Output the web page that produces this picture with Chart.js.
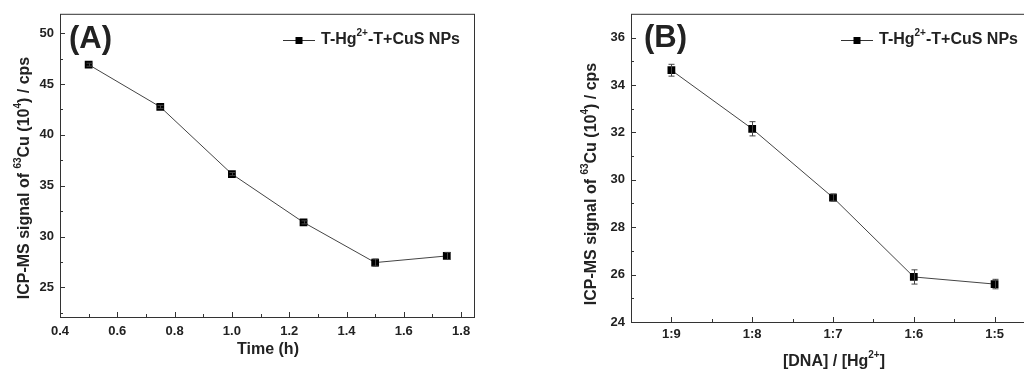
<!DOCTYPE html>
<html>
<head>
<meta charset="utf-8">
<script src="https://cdn.jsdelivr.net/npm/chart.js@4"></script>
<style>
    html, body { margin: 0; padding: 0; background: #fff; overflow: hidden; width: 1024px; height: 372px; }
    .panel { position: absolute; top: 0; height: 372px; }
    #panelA { left: 0; width: 490px; }
    #panelB { left: 560px; width: 490px; }
</style>
</head>
<body>
<div class="panel" id="panelA"><canvas id="chartA"></canvas></div>
<div class="panel" id="panelB"><canvas id="chartB"></canvas></div>
<script>
// Panel A: signal vs. incubation time
const timeHours = [0.5, 0.75, 1.0, 1.25, 1.5, 1.75];
const signalA = [46.9, 42.75, 36.15, 31.4, 27.45, 28.1];
const errorA = [0.15, 0.15, 0.15, 0.15, 0.35, 0.35];

// Panel B: signal vs. DNA / Hg2+ ratio
const ratioLabels = ['1:9', '1:8', '1:7', '1:6', '1:5'];
const signalB = [34.62, 32.15, 29.25, 25.9, 25.6];
const errorB = [0.25, 0.3, 0.15, 0.3, 0.2];

const FONT = "'Liberation Sans', Arial, sans-serif";
const INK = '#222';

// rich text with superscript parts: [[text, isSup], ...]
function drawRich(ctx, parts, size, x, y, align, rotate) {
    const supSize = Math.round(size * 0.65);
    let total = 0;
    parts.forEach(p => {
        ctx.font = 'bold ' + (p[1] ? supSize : size) + 'px ' + FONT;
        total += ctx.measureText(p[0]).width;
    });
    ctx.save();
    ctx.translate(x, y);
    if (rotate) ctx.rotate(-Math.PI / 2);
    ctx.fillStyle = INK;
    ctx.textBaseline = 'middle';
    ctx.textAlign = 'left';
    let cx = align === 'center' ? -total / 2 : 0;
    parts.forEach(p => {
        ctx.font = 'bold ' + (p[1] ? supSize : size) + 'px ' + FONT;
        ctx.fillText(p[0], cx, p[1] ? -size * 0.4 : 0);
        cx += ctx.measureText(p[0]).width;
    });
    ctx.restore();
}

const legendParts = [['T-Hg', false], ['2+', true], ['-T+CuS NPs', false]];
const yTitleParts = [['ICP-MS signal of ', false], ['63', true], ['Cu (10', false], ['4', true], [') / cps', false]];

// frame + inward major/minor ticks
const frameTicks = {
    id: 'frameTicks',
    afterDraw(chart, args, opts) {
        const {ctx, chartArea: a} = chart;
        ctx.save();
        ctx.strokeStyle = '#333';
        ctx.lineWidth = 1;
        ctx.strokeRect(a.left + 0.5, a.top + 0.5, a.right - a.left, a.bottom - a.top);
        ctx.beginPath();
        ['x', 'y'].forEach(id => {
            const scale = chart.scales[id];
            const step = opts[id];
            for (let v = Math.ceil(scale.min / step - 1e-6) * step; v <= scale.max + 1e-9; v += step) {
                const isMajor = Math.abs(v / (step * 2) - Math.round(v / (step * 2))) < 1e-6;
                const len = isMajor ? 5 : 3;
                const p = Math.round(scale.getPixelForValue(v)) + 0.5;
                if (id === 'x') {
                    if (p <= a.left + 1 || p >= a.right - 1) continue;
                    ctx.moveTo(p, a.bottom);
                    ctx.lineTo(p, a.bottom - len);
                } else {
                    if (p <= a.top + 1 || p >= a.bottom - 1) continue;
                    ctx.moveTo(a.left, p);
                    ctx.lineTo(a.left + len, p);
                }
            }
        });
        ctx.stroke();
        ctx.restore();
    }
};

// vertical error bars from dataset.errors
const errorBars = {
    id: 'errorBars',
    afterDatasetsDraw(chart) {
        const {ctx} = chart;
        const xs = chart.scales.x, ys = chart.scales.y;
        ctx.save();
        ctx.strokeStyle = '#444';
        ctx.lineWidth = 1;
        chart.data.datasets.forEach(ds => {
            ds.data.forEach((pt, i) => {
                const e = ds.errors[i];
                const px = Math.round(xs.getPixelForValue(pt.x)) + 0.5;
                const y1 = ys.getPixelForValue(pt.y + e);
                const y2 = ys.getPixelForValue(pt.y - e);
                ctx.beginPath();
                ctx.moveTo(px, y1); ctx.lineTo(px, y2);
                ctx.moveTo(px - 3, y1); ctx.lineTo(px + 3, y1);
                ctx.moveTo(px - 3, y2); ctx.lineTo(px + 3, y2);
                ctx.stroke();
            });
        });
        ctx.restore();
    }
};

// panel letter, legend and axis titles
const decor = {
    id: 'decor',
    afterDraw(chart, args, o) {
        const {ctx} = chart;
        ctx.save();
        ctx.fillStyle = INK;
        ctx.font = 'bold 31px ' + FONT;
        ctx.textBaseline = 'middle';
        ctx.fillText(o.letter, o.letterX, o.letterY);
        // legend sample: line with square marker
        ctx.strokeStyle = '#333';
        ctx.lineWidth = 1;
        ctx.beginPath();
        ctx.moveTo(o.legX, o.legY + 0.5);
        ctx.lineTo(o.legX + 32, o.legY + 0.5);
        ctx.stroke();
        ctx.fillStyle = '#000';
        ctx.fillRect(o.legX + 12.5, o.legY - 3, 7, 7);
        ctx.restore();
        drawRich(ctx, legendParts, 16, o.legX + 38, o.legY, 'left', false);
        drawRich(ctx, yTitleParts, 16, o.yTitleX, o.yTitleY, 'center', true);
        drawRich(ctx, o.xTitle, 16, o.xTitleX, o.xTitleY, 'center', false);
    }
};

function makeChart(canvasId, points, errors, cfg) {
    return new Chart(document.getElementById(canvasId), {
        type: 'line',
        data: {
            datasets: [{
                data: points,
                errors: errors,
                borderColor: '#444',
                borderWidth: 1,
                pointStyle: 'rect',
                pointRadius: 5.5,
                pointBackgroundColor: '#000',
                pointBorderColor: '#000',
                pointBorderWidth: 0
            }]
        },
        options: {
            responsive: true,
            maintainAspectRatio: false,
            animation: false,
            layout: { padding: { top: 13, right: cfg.padRight, left: 0, bottom: 0 } },
            plugins: {
                legend: { display: false },
                tooltip: { enabled: false },
                frameTicks: { x: cfg.xMinor, y: cfg.yMinor },
                decor: cfg.decor
            },
            scales: {
                x: {
                    type: 'linear',
                    min: cfg.xMin, max: cfg.xMax,
                    grid: { display: false, drawTicks: false },
                    border: { display: false },
                    afterFit: s => { s.height = cfg.xHeight; },
                    afterBuildTicks: s => { s.ticks = cfg.xTicks.map(v => ({ value: v })); },
                    ticks: {
                        padding: cfg.xPad,
                        color: INK,
                        font: { family: FONT, size: 13, weight: 'bold' },
                        callback: cfg.xLabel
                    }
                },
                y: {
                    min: cfg.yMin, max: cfg.yMax,
                    grid: { display: false, drawTicks: false },
                    border: { display: false },
                    afterFit: s => { s.width = cfg.yWidth; },
                    afterBuildTicks: s => { s.ticks = cfg.yTicks.map(v => ({ value: v })); },
                    ticks: {
                        padding: 6,
                        color: INK,
                        font: { family: FONT, size: 13, weight: 'bold' }
                    }
                }
            }
        },
        plugins: [frameTicks, errorBars, decor]
    });
}

const xTicksA = [0.4, 0.6, 0.8, 1.0, 1.2, 1.4, 1.6, 1.8];
const yTicksA = [25, 30, 35, 40, 45, 50];
const yTicksB = [24, 26, 28, 30, 32, 34, 36];

makeChart('chartA', timeHours.map((t, i) => ({ x: t, y: signalA[i] })), errorA, {
    xMin: 0.4, xMax: 1.845, yMin: 22.1, yMax: 51.9,
    xMinor: 0.1, yMinor: 2.5, xTicks: xTicksA, yTicks: yTicksA,
    padRight: 16, xHeight: 55, yWidth: 60, xPad: 7,
    xLabel: v => v.toFixed(1),
    decor: {
        letter: '(A)', letterX: 69, letterY: 39,
        legX: 283, legY: 40,
        yTitleX: 25, yTitleY: 178,
        xTitle: [['Time (h)', false]], xTitleX: 268, xTitleY: 350
    }
});

makeChart('chartB', ratioLabels.map((r, i) => ({ x: i + 1, y: signalB[i] })), errorB, {
    xMin: 0.5, xMax: 5.5, yMin: 24, yMax: 37,
    xMinor: 0.5, yMinor: 1, xTicks: ratioLabels.map((r, i) => i + 1), yTicks: yTicksB,
    padRight: 15, xHeight: 50, yWidth: 71, xPad: 5,
    xLabel: v => ratioLabels[Math.round(v) - 1] || '',
    decor: {
        letter: '(B)', letterX: 84, letterY: 38,
        legX: 281, legY: 40,
        yTitleX: 32, yTitleY: 184,
        xTitle: [['[DNA] / [Hg', false], ['2+', true], [']', false]], xTitleX: 274, xTitleY: 362
    }
});
</script>
</body>
</html>
